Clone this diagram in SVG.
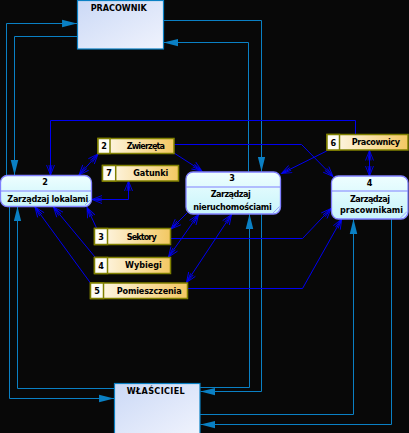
<svg xmlns="http://www.w3.org/2000/svg" width="409" height="433" viewBox="0 0 409 433">
<defs>
<linearGradient id="gEnt" x1="0" y1="0" x2="1" y2="1"><stop offset="0" stop-color="#cbd9f6"/><stop offset="1" stop-color="#f0f3fd"/></linearGradient>
<linearGradient id="gProc" x1="0" y1="0" x2="0" y2="1"><stop offset="0" stop-color="#eefeff"/><stop offset="1" stop-color="#c8f4fa"/></linearGradient>
<linearGradient id="gStore" x1="0" y1="0" x2="1" y2="0"><stop offset="0" stop-color="#fffbf2"/><stop offset="1" stop-color="#f3c862"/></linearGradient>
<marker id="aExt" markerUnits="userSpaceOnUse" markerWidth="16" markerHeight="10" viewBox="-14 -4 15 8" refX="0" refY="0" orient="auto"><path d="M-14,-3.5 L0,0 L-14,3.5 Z" fill="#0a80c4"/></marker>
<marker id="aInt" markerUnits="userSpaceOnUse" markerWidth="12" markerHeight="10" viewBox="-11 -5 12 10" refX="0" refY="0" orient="auto-start-reverse"><path d="M-10,-4 L0,0 L-10,4 M-10,-1.5 L0,0 L-10,1.5" fill="none" stroke="#0000f0" stroke-width="0.9"/></marker>
<style>
.ext{fill:none;stroke:#0a80c4;stroke-width:1;marker-end:url(#aExt)}
.int{fill:none;stroke:#0000f0;stroke-width:1;marker-end:url(#aInt)}
.both{marker-start:url(#aInt)}
.ent{fill:url(#gEnt);stroke:#0a80c4;stroke-width:1.2}
.proc{fill:url(#gProc);stroke:#8080ff;stroke-width:1.3}
.div{stroke:#8080ff;stroke-width:1.2}
.grip{stroke:#9090ff;stroke-width:0.8}
.store{fill:url(#gStore);stroke:#808000;stroke-width:1.5}
.cell{fill:#fffdf6;stroke:#808000;stroke-width:1.5}
text{font-family:"Liberation Sans Narrow","DejaVu Sans Condensed","Liberation Sans",sans-serif;font-size:9px;font-weight:bold;fill:#000}
.c{text-anchor:middle}
</style>
</defs>
<rect width="409" height="433" fill="#080808"/>
<g id="connectors">
<path class="ext" d="M6.5,175 V23.5 H77"/>
<path class="ext" d="M78,36.5 H14.5 V175"/>
<path class="ext" d="M163,20.5 H261.5 V171.5"/>
<path class="ext" d="M248.5,171.5 V42.5 H163.5"/>
<path class="ext" d="M9.5,206.5 V398.5 H114"/>
<path class="ext" d="M114.5,388.5 H17.5 V206.5"/>
<path class="ext" d="M261.5,214 V391.5 H200.5"/>
<path class="ext" d="M200,387.5 H249.5 V214"/>
<path class="ext" d="M200,414.5 H353.5 V219"/>
<path class="ext" d="M391.5,219 V424.5 H200.5"/>
<path class="int" d="M355.5,134 V120.5 H50.5 V175"/>
<path class="int" d="M174,144.5 H301.5 L333,176.5"/>
<path class="int" d="M174,153 L202,171"/>
<path class="int both" d="M98,154 L79,175"/>
<path class="int both" d="M128.5,181 V199.5 H92"/>
<path class="int" d="M96.5,228 L87,207.5"/>
<path class="int" d="M95,257 L53.5,207"/>
<path class="int" d="M90.5,283 L35,207"/>
<path class="int" d="M187,213 L171,229"/>
<path class="int both" d="M198.5,214.5 L168.5,257"/>
<path class="int both" d="M231.5,214.5 L186.5,282.5"/>
<path class="int" d="M170.7,238.5 H302.5 L331,208.5"/>
<path class="int" d="M187.7,288.5 H302.5 L341.7,219"/>
<path class="int" d="M326.7,151 L281.5,173.5"/>
<path class="int both" d="M369.5,150.5 V176"/>
</g>
<g id="pracownik">
<rect class="ent" x="77.5" y="0.5" width="86" height="48.5"/>
<text x="90.7" y="11" textLength="56" lengthAdjust="spacing">PRACOWNIK</text>
</g>
<g id="wlasciciel">
<rect class="ent" x="114.5" y="383.5" width="85.5" height="52"/>
<text x="126.7" y="394" textLength="58" lengthAdjust="spacing">WŁAŚCICIEL</text>
</g>
<g id="proc2">
<rect class="proc" x="0.5" y="175.5" width="91" height="31" rx="7"/>
<line class="div" x1="0.5" y1="191" x2="91.5" y2="191"/>
<path class="grip" d="M85,205 L90,200 M88,205.5 L90.8,202.7"/>
<text class="c" x="45" y="184.5">2</text>
<text x="7.3" y="202" textLength="81" lengthAdjust="spacing">Zarządzaj lokalami</text>
</g>
<g id="proc3">
<rect class="proc" x="186" y="172" width="94.5" height="42" rx="7"/>
<line class="div" x1="186" y1="187" x2="280.5" y2="187"/>
<path class="grip" d="M273,213 L279.5,206.5 M276.5,213.3 L279.8,210"/>
<text class="c" x="232" y="181">3</text>
<text x="210.7" y="196.5" textLength="40" lengthAdjust="spacing">Zarządzaj</text>
<text x="193.3" y="209.5" textLength="78.4" lengthAdjust="spacing">nieruchomościami</text>
</g>
<g id="proc4">
<rect class="proc" x="331.5" y="176" width="76.5" height="43" rx="7"/>
<line class="div" x1="331.5" y1="191" x2="408" y2="191"/>
<path class="grip" d="M400.5,218 L407,211.5 M404,218.3 L407.3,215"/>
<text class="c" x="369.5" y="185.5">4</text>
<text x="350" y="201.5" textLength="40" lengthAdjust="spacing">Zarządzaj</text>
<text x="340" y="212.5" textLength="63" lengthAdjust="spacing">pracownikami</text>
</g>
<g id="store2">
<rect class="store" x="98" y="138.5" width="76" height="15"/>
<rect class="cell" x="98" y="138.5" width="12" height="15"/>
<text class="c" x="104" y="149">2</text>
<text x="126.7" y="148.5" textLength="38.3" lengthAdjust="spacing">Zwierzęta</text>
</g>
<g id="store7">
<rect class="store" x="102.5" y="165.5" width="76" height="15.5"/>
<rect class="cell" x="102.5" y="165.5" width="13.2" height="15.5"/>
<text class="c" x="109" y="175.5">7</text>
<text x="133.3" y="175.5" textLength="35" lengthAdjust="spacing">Gatunki</text>
</g>
<g id="store6">
<rect class="store" x="327" y="134.5" width="81" height="15.5"/>
<rect class="cell" x="327" y="134.5" width="12.5" height="15.5"/>
<text class="c" x="333.2" y="145.5">6</text>
<text x="351.7" y="144.5" textLength="48.3" lengthAdjust="spacing">Pracownicy</text>
</g>
<g id="store3">
<rect class="store" x="94.5" y="228.5" width="76" height="16"/>
<rect class="cell" x="94.5" y="228.5" width="13" height="16"/>
<text class="c" x="101" y="240">3</text>
<text x="126.7" y="240" textLength="30" lengthAdjust="spacing">Sektory</text>
</g>
<g id="store4">
<rect class="store" x="94.5" y="257.5" width="76" height="16"/>
<rect class="cell" x="94.5" y="257.5" width="13" height="16"/>
<text class="c" x="101" y="268.5">4</text>
<text x="125" y="267.5" textLength="36.7" lengthAdjust="spacing">Wybiegi</text>
</g>
<g id="store5">
<rect class="store" x="90.5" y="283" width="97" height="15.5"/>
<rect class="cell" x="90.5" y="283" width="13" height="15.5"/>
<text class="c" x="97" y="294">5</text>
<text x="116.7" y="294" textLength="65" lengthAdjust="spacing">Pomieszczenia</text>
</g>
</svg>
